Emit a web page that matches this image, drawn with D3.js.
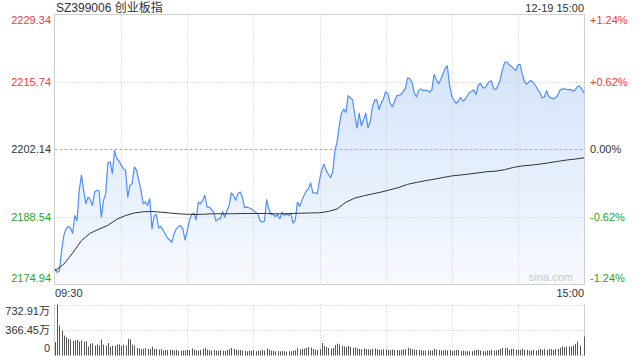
<!DOCTYPE html>
<html><head><meta charset="utf-8">
<script src="https://cdn.jsdelivr.net/npm/d3@7/dist/d3.min.js"></script>
<style>
html,body{margin:0;padding:0;background:#fff;}
svg{display:block;font-family:"Liberation Sans",Arial,"Noto Sans CJK SC",sans-serif;}
</style></head>
<body>
<svg id="c" width="640" height="360"></svg>
<script>
const title = "SZ399006 创业板指";
const stamp = "12-19 15:00";
const prevClose = 2202.14;
const priceTicks = [2229.34, 2215.74, 2202.14, 2188.54, 2174.94];
const pctTicks = ["+1.24%", "+0.62%", "0.00%", "-0.62%", "-1.24%"];
const timeLabels = ["09:30", "15:00"];
const volTicks = [732.91, 366.45, 0];
const volTickLabels = ["732.91万", "366.45万", "0"];

// one value per minute, 0 = 09:30 ... 120 = 11:30/13:00 ... 240 = 15:00
const prices = [
2178.05,2177.24,2177.58,2181.64,2184.68,2186.04,2186.51,2186.24,2185.16,2188.74,
2187.73,2193.82,2196.86,2193.82,2191.11,2192.46,2191.92,2190.77,2193.48,2193.82,
2193.68,2188.40,2191.79,2193.14,2199.37,2199.57,2197.20,2201.80,2200.25,2199.77,
2198.89,2198.22,2197.88,2192.46,2194.83,2195.17,2198.55,2197.88,2195.85,2193.82,
2191.11,2191.45,2190.77,2192.13,2186.04,2188.74,2188.94,2186.24,2186.51,2185.83,
2185.02,2184.21,2183.80,2183.33,2185.02,2186.04,2186.51,2186.71,2186.04,2183.80,
2185.70,2187.73,2188.94,2189.22,2187.86,2191.45,2191.11,2191.79,2192.80,2190.43,
2190.43,2189.89,2189.42,2187.59,2188.07,2188.07,2189.55,2188.40,2189.76,2190.77,
2193.28,2192.80,2191.79,2193.14,2193.48,2192.46,2190.30,2190.43,2190.30,2190.10,
2189.76,2189.42,2189.08,2187.73,2187.39,2187.59,2191.92,2190.10,2188.94,2188.94,
2188.54,2188.94,2188.07,2189.42,2188.74,2189.08,2188.74,2189.22,2187.19,2187.73,
2191.45,2190.57,2191.79,2192.80,2193.68,2194.16,2195.31,2193.28,2193.28,2193.14,
2195.85,2197.88,2199.09,2197.88,2197.06,2196.39,2197.54,2201.80,2203.63,2207.01,
2209.38,2210.19,2209.52,2212.90,2212.43,2212.09,2209.04,2206.40,2209.38,2206.81,
2208.03,2209.38,2206.40,2207.63,2210.60,2211.95,2212.09,2210.06,2211.42,2212.23,
2213.71,2213.30,2211.41,2210.67,2211.61,2212.90,2212.90,2213.17,2213.71,2214.39,
2216.49,2216.28,2215.54,2213.44,2212.63,2213.91,2214.25,2213.91,2213.98,2213.91,
2213.57,2214.12,2217.16,2216.15,2215.27,2216.15,2217.30,2218.38,2218.89,2214.99,
2212.76,2212.02,2211.34,2211.75,2212.56,2211.82,2212.09,2212.76,2213.51,2213.71,
2214.05,2213.10,2214.99,2215.40,2214.59,2214.39,2215.13,2215.74,2215.88,2214.25,
2214.12,2214.93,2216.15,2218.18,2219.60,2219.67,2219.12,2218.85,2218.38,2217.97,
2219.06,2219.19,2217.16,2215.74,2215.20,2215.67,2215.94,2215.47,2214.93,2214.12,
2213.57,2212.43,2212.63,2213.91,2212.76,2212.43,2212.29,2212.43,2212.90,2213.91,
2214.25,2214.25,2214.18,2214.12,2214.12,2213.78,2214.05,2214.73,2214.79,2214.25,
2213.44];

// average price, read every 4 minutes
const avgMinutes = [0,4,8,12,16,20,24,28,32,36,40,44,48,52,56,60,64,68,72,76,80,84,88,92,96,100,104,108,112,116,120,
124,128,132,136,140,144,148,152,156,160,164,168,172,176,180,184,188,192,196,200,204,208,212,216,220,224,228,232,236,240];
const avgPrices = [2177.58,2178.94,2181.17,2183.67,2185.19,2186.00,2186.77,2187.97,2188.74,2189.25,2189.49,2189.55,2189.41,2189.25,2189.09,2188.99,
2188.94,2189.01,2189.09,2189.09,2189.09,2189.13,2189.15,2189.15,2189.15,2189.09,2189.09,2189.15,2189.21,2189.25,2189.29,
2189.55,2190.06,2191.42,2192.25,2192.70,2193.09,2193.47,2193.92,2194.39,2195.03,2195.40,2195.75,2196.05,2196.40,2196.72,
2196.90,2197.11,2197.33,2197.57,2197.67,2197.98,2198.43,2198.73,2198.89,2199.09,2199.36,2199.64,2199.91,2200.11,2200.37];

// volume per minute, 万
const volumes = [
192,732.91,431,359,287,263,240,230,206,216,225,201,216,198,206,129,168,177,144,158,
139,230,158,144,180,129,139,139,158,158,139,153,144,240,230,158,144,110,101,91,
96,110,93,91,129,96,96,86,91,72,82,77,82,82,72,82,67,72,72,72,
82,77,101,82,72,72,80,95,110,85,75,70,80,72,68,75,70,65,80,90,
110,95,85,75,80,70,65,60,70,65,75,60,65,70,80,72,100,85,70,65,
60,62,58,65,60,55,58,60,70,75,105,90,95,100,110,120,115,95,85,80,
90,180,140,120,110,100,110,150,170,160,140,130,120,140,125,110,115,100,95,90,
100,95,90,85,95,100,90,85,80,90,85,80,75,85,80,78,75,80,85,90,
110,100,90,85,80,78,75,72,70,75,72,70,95,85,80,72,72,81,72,81,
62,72,81,81,62,72,62,62,62,62,72,81,81,72,62,62,72,72,81,72,
72,81,96,110,105,110,81,96,96,81,81,81,96,81,81,72,72,81,72,81,
91,81,91,81,91,91,81,96,96,110,129,120,129,129,129,144,168,201,144,10,
273];

const svg = d3.select("#c");
const L = 54.5, R = 584.5, T = 14.5, B = 284.5;
const VT = 304.5, VB = 356;
const x = d3.scaleLinear().domain([0, 240]).range([55, 584]);
const y = d3.scaleLinear().domain([priceTicks[4], priceTicks[0]]).range([284, 14]);
const yv = d3.scaleLinear().domain([0, volTicks[0]]).range([355.5, 304.5]);

const defs = svg.append("defs");
const grad = defs.append("linearGradient").attr("id","fillg").attr("x1",0).attr("y1",0).attr("x2",0).attr("y2",1);
grad.append("stop").attr("offset","0%").attr("stop-color","#d4e3fa");
grad.append("stop").attr("offset","100%").attr("stop-color","#f7faff");

// fill under price
const area = d3.area().x((d,i)=>x(i)).y0(B).y1(d=>y(d));
svg.append("path").datum(prices).attr("d", area).attr("fill","url(#fillg)");

// grid
const g = svg.append("g");
[1,2,3,4,5,6,7].forEach(k=>{
  const xx = Math.round(x(k*30)) + 0.5;
  g.append("line").attr("x1",xx).attr("x2",xx).attr("y1",T).attr("y2",B)
   .attr("stroke","#c8c8c8").attr("stroke-dasharray","1,2");
  g.append("line").attr("x1",xx).attr("x2",xx).attr("y1",VT).attr("y2",VB)
   .attr("stroke","#c8c8c8").attr("stroke-dasharray","1,2");
});
[1,3].forEach(k=>{
  const yy = Math.round(y(priceTicks[k])) + 0.5;
  g.append("line").attr("x1",L).attr("x2",R).attr("y1",yy).attr("y2",yy)
   .attr("stroke","#c8c8c8").attr("stroke-dasharray","1,2");
});
{
  const yy = Math.round(y(prevClose)) + 0.5;
  g.append("line").attr("x1",L).attr("x2",R).attr("y1",yy).attr("y2",yy)
   .attr("stroke","#b0b0b0").attr("stroke-dasharray","3,2");
}
// frame
svg.append("rect").attr("x",L).attr("y",T).attr("width",R-L).attr("height",B-T)
  .attr("fill","none").attr("stroke","#d0d0d0");
// volume frame
[volTicks[0], volTicks[1]].forEach(v=>{
  const yy = Math.round(yv(v)) + 0.5;
  svg.append("line").attr("x1",L).attr("x2",R).attr("y1",yy).attr("y2",yy)
   .attr("stroke","#c8c8c8").attr("stroke-dasharray","1,2");
});
svg.append("line").attr("x1",L).attr("x2",L).attr("y1",VT).attr("y2",VB).attr("stroke","#d0d0d0");
svg.append("line").attr("x1",R).attr("x2",R).attr("y1",VT).attr("y2",VB).attr("stroke","#d0d0d0");

// price line
svg.append("path").datum(prices)
  .attr("d", d3.line().x((d,i)=>x(i)).y(d=>y(d)))
  .attr("fill","none").attr("stroke","#4f8ef5").attr("stroke-width",1.2).attr("stroke-linejoin","round");

// average line
svg.append("path").datum(avgMinutes.map((m,i)=>[m, avgPrices[i]]))
  .attr("d", d3.line().x(d=>x(d[0])).y(d=>y(d[1])))
  .attr("fill","none").attr("stroke","#333").attr("stroke-width",1);

// volume bars
svg.append("g").selectAll("line").data(volumes).join("line")
  .attr("x1",(d,i)=>Math.round(x(i))+0.5).attr("x2",(d,i)=>Math.round(x(i))+0.5)
  .attr("y1",yv(0)).attr("y2",d=>yv(d))
  .attr("stroke","#555").attr("stroke-width",1);

// texts
const red = "#f23a3a", green = "#1ea51e", dark = "#333";
svg.append("text").attr("x",56).attr("y",12).attr("font-size",12).attr("fill",dark).text(title);
svg.append("text").attr("x",584).attr("y",12).attr("font-size",11).attr("text-anchor","end").attr("fill",dark).text(stamp);

const colFor = i => i < 2 ? red : (i === 2 ? dark : green);
priceTicks.forEach((p,i)=>{
  let yy = y(p) + 4;
  if (i === 0) yy = y(p) + 10;
  if (i === 4) yy = y(p) - 2;
  svg.append("text").attr("x",51).attr("y",yy).attr("font-size",11).attr("text-anchor","end")
    .attr("fill",colFor(i)).text(p.toFixed(2));
  svg.append("text").attr("x",590).attr("y",yy).attr("font-size",11).attr("text-anchor","start")
    .attr("fill",colFor(i)).text(pctTicks[i]);
});
svg.append("text").attr("x",573).attr("y",281).attr("font-size",11).attr("text-anchor","end").attr("fill","#c8c8c8").text("sina.com");
svg.append("text").attr("x",55).attr("y",297).attr("font-size",11).attr("fill",dark).text(timeLabels[0]);
svg.append("text").attr("x",584).attr("y",297).attr("font-size",11).attr("text-anchor","end").attr("fill",dark).text(timeLabels[1]);
volTicks.forEach((v,i)=>{
  const yy = [315, 334, 352][i];
  svg.append("text").attr("x",50).attr("y",yy).attr("font-size",11).attr("text-anchor","end").attr("fill",dark).text(volTickLabels[i]);
});
</script>
</body></html>
